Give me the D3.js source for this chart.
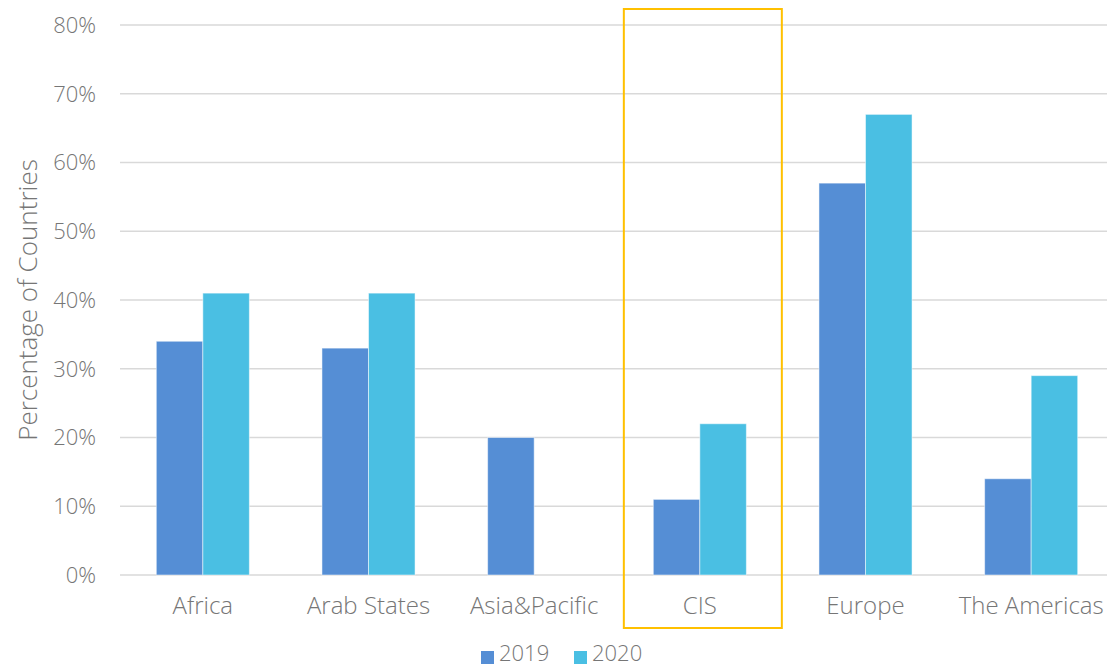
<!DOCTYPE html>
<html><head><meta charset="utf-8">
<script src="https://cdn.jsdelivr.net/npm/d3@7"></script>
<style>
body{margin:0;background:#fff;}
svg{display:block;font-family:"Open Sans",Lato,sans-serif;font-weight:300;}
</style></head>
<body><svg id="c" width="1107" height="668"></svg>
<script>
const categories = ["Africa","Arab States","Asia&Pacific","CIS","Europe","The Americas"];
const series = ["2019","2020"];
const values2019 = [34,33,20,11,57,14];
const values2020 = [41,41,null,22,67,29];
const yTicks = [0,10,20,30,40,50,60,70,80];
const colors = ["#558ED5","#4ABFE3"];
const highlight = "CIS";

(function(){
const svg = d3.select("#c");
const pLeft = 120, pRight = 1114, pTop = 25, pBottom = 575;
const x = d3.scaleBand().domain(categories).range([pLeft,pRight]).paddingInner(0).paddingOuter(0);
const xs = d3.scaleBand().domain(series).range([0,x.bandwidth()]).paddingInner(0).paddingOuter(0.78);
const y = d3.scaleLinear().domain([0,80]).range([pBottom,pTop]);
const txt = "#767676";

svg.append("g").selectAll("line").data(yTicks).join("line")
  .attr("x1",pLeft).attr("x2",1107).attr("y1",d=>y(d)).attr("y2",d=>y(d))
  .attr("stroke","#d9d9d9").attr("stroke-width",1.5);

svg.append("g").selectAll("text").data(yTicks).join("text")
  .attr("x",96).attr("y",d=>y(d)).attr("dy","0.36em").attr("text-anchor","end")
  .attr("fill",txt).attr("font-size",22).text(d=>d+"%");

svg.append("text").attr("transform","translate(37,300) rotate(-90)")
  .attr("text-anchor","middle").attr("fill",txt).attr("font-size",26)
  .text("Percentage of Countries");

const data = [values2019, values2020];
series.forEach((s,i)=>{
  svg.append("g").selectAll("rect")
    .data(categories.map((c,j)=>({c,v:data[i][j]})).filter(d=>d.v!=null))
    .join("rect")
    .attr("x",d=>x(d.c)+xs(s)).attr("width",xs.bandwidth())
    .attr("y",d=>y(d.v)).attr("height",d=>y(0)-y(d.v))
    .attr("fill",colors[i]).attr("stroke","#ffffff").attr("stroke-opacity",0.5).attr("stroke-width",1);
});

svg.append("g").selectAll("text").data(categories).join("text")
  .attr("x",d=>x(d)+x.bandwidth()/2).attr("y",605).attr("dy","0.36em")
  .attr("text-anchor","middle").attr("fill",txt).attr("font-size",24).text(d=>d);

const cx = x(highlight)+x.bandwidth()/2;
svg.append("rect")
  .attr("x",cx-76).attr("y",9)
  .attr("width",158).attr("height",619)
  .attr("fill","none").attr("stroke","#FFC000").attr("stroke-width",2);

const lg = svg.append("g");
const lx = [481,574];
series.forEach((s,i)=>{
  lg.append("rect").attr("x",lx[i]).attr("y",651).attr("width",13).attr("height",13).attr("fill",colors[i]);
  lg.append("text").attr("x",lx[i]+18).attr("y",661).attr("fill",txt).attr("font-size",22).text(s);
});
})();
</script></body></html>
